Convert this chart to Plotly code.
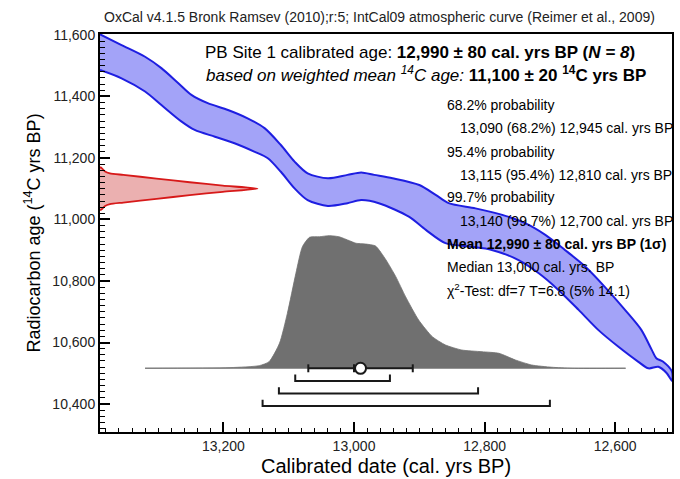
import plotly.graph_objects as go

# ---------------- data ----------------
# IntCal09 calibration band (calendar yrs BP -> 14C yrs BP)
band_upper_cal = [13389, 13356, 13320, 13295, 13269, 13249, 13224, 13193, 13163, 13137, 13112, 13091,
                  13071, 13040, 13010, 12989, 12969, 12941, 12900, 12875, 12855, 12814, 12773, 12738,
                  12707, 12677, 12646, 12616, 12585, 12560, 12544, 12537, 12527, 12513]
band_upper_c14 = [11602, 11567, 11529, 11492, 11443, 11405, 11378, 11356, 11329, 11297, 11242, 11188,
                  11150, 11134, 11145, 11153, 11145, 11134, 11112, 11080, 11053, 11036, 11015, 10988,
                  10950, 10901, 10847, 10781, 10706, 10641, 10576, 10549, 10538, 10505]
band_lower_cal = [13389, 13356, 13320, 13295, 13264, 13244, 13213, 13183, 13152, 13132, 13112, 13091,
                  13071, 13040, 13010, 12989, 12962, 12916, 12890, 12860, 12824, 12789, 12748, 12717,
                  12687, 12656, 12626, 12595, 12565, 12549, 12534, 12521, 12513]
band_lower_c14 = [11486, 11459, 11416, 11372, 11318, 11291, 11269, 11248, 11220, 11199, 11155, 11101,
                  11063, 11044, 11053, 11063, 11053, 11009, 10966, 10923, 10912, 10901, 10868, 10825,
                  10771, 10706, 10641, 10586, 10538, 10516, 10521, 10500, 10475]

# measured 14C age distribution (weighted mean 11,100 +/- 20)
c14_age = [11170, 11167, 11156, 11150, 11145, 11133, 11121, 11110, 11100,
           11090, 11079, 11067, 11055, 11050, 11044, 11033, 11030]
c14_prob = [0.0, 0.011, 0.032, 0.063, 0.148, 0.359, 0.57, 0.78, 1.0,
            0.78, 0.57, 0.359, 0.148, 0.063, 0.032, 0.011, 0.0]

# calibrated date distribution
cal_date = [13320, 13190, 13145, 13130, 13114, 13102, 13089, 13079, 13068, 13053, 13038, 13023,
            13007, 12997, 12982, 12967, 12951, 12936, 12921, 12901, 12880, 12860, 12835, 12804,
            12778, 12753, 12728, 12697, 12666, 12584]
cal_prob = [0.0, 0.005, 0.02, 0.05, 0.19, 0.415, 0.716, 0.917, 0.988, 0.992, 1.0, 0.992,
            0.962, 0.943, 0.937, 0.922, 0.817, 0.691, 0.54, 0.364, 0.238, 0.176, 0.138, 0.125,
            0.113, 0.063, 0.025, 0.008, 0.0, 0.0]

# calibrated ranges
range_labels = ["68.2%", "95.4%", "99.7%"]
range_from = [13090, 13115, 13140]
range_to = [12945, 12810, 12700]
cal_mean = 12990
cal_sigma = 80
cal_median = 13000

x_ticks = [13200, 13000, 12800, 12600]
y_ticks = [10400, 10600, 10800, 11000, 11200, 11400, 11600]

# ---------------- figure ----------------
FONT = "Liberation Sans, Arial, Helvetica, sans-serif"
fig = go.Figure()

# calibration band
fig.add_trace(go.Scatter(
    x=band_upper_cal + band_lower_cal[::-1],
    y=band_upper_c14 + band_lower_c14[::-1],
    fill="toself", fillcolor="rgb(163,163,248)", mode="lines",
    line=dict(color="rgb(30,30,225)", width=2, shape="spline", smoothing=0.8),
    hoverinfo="skip", showlegend=False))

# red 14C distribution on left
fig.add_trace(go.Scatter(
    x=c14_prob, y=c14_age, xaxis="x2", yaxis="y",
    fill="toself", fillcolor="rgba(228,150,150,0.75)", mode="lines",
    line=dict(color="rgb(215,25,25)", width=1.8, shape="spline", smoothing=0.6),
    hoverinfo="skip", showlegend=False))

# grey baseline
fig.add_trace(go.Scatter(
    x=[cal_date[0], cal_date[-1]], y=[0, 0], xaxis="x", yaxis="y2", mode="lines",
    line=dict(color="rgb(160,160,160)", width=1.5), hoverinfo="skip", showlegend=False))

# grey calibrated distribution
fig.add_trace(go.Scatter(
    x=cal_date, y=cal_prob, xaxis="x", yaxis="y2",
    fill="toself", fillcolor="rgb(112,112,112)", mode="lines",
    line=dict(color="rgb(112,112,112)", width=0.8, shape="spline", smoothing=0.6),
    hoverinfo="skip", showlegend=False))

# range brackets
step = 0.095
tick = 0.048
for i, (a, b) in enumerate(zip(range_from, range_to)):
    lv = -(i + 1) * step
    fig.add_trace(go.Scatter(
        x=[a, a, b, b], y=[lv + tick, lv, lv, lv + tick], xaxis="x", yaxis="y2",
        mode="lines", line=dict(color="rgb(25,25,25)", width=2),
        hoverinfo="skip", showlegend=False))

# mean +/- sigma bar
mt = 0.03
fig.add_trace(go.Scatter(
    x=[cal_mean + cal_sigma, cal_mean + cal_sigma, None, cal_mean + cal_sigma, cal_mean - cal_sigma, None,
       cal_mean - cal_sigma, cal_mean - cal_sigma, None, cal_median, cal_median],
    y=[-mt, mt, None, 0, 0, None, -mt, mt, None, -mt, mt],
    xaxis="x", yaxis="y2", mode="lines", line=dict(color="rgb(25,25,25)", width=2),
    hoverinfo="skip", showlegend=False))
fig.add_trace(go.Scatter(
    x=[cal_mean], y=[0], xaxis="x", yaxis="y2", mode="markers",
    marker=dict(size=11, color="white", line=dict(color="rgb(25,25,25)", width=2)),
    hoverinfo="skip", showlegend=False))

axis_common = dict(showline=True, linewidth=2, linecolor="black", mirror=True,
                   ticks="inside", ticklen=10, tickwidth=2, tickcolor="black",
                   showgrid=False, zeroline=False,
                   tickfont=dict(family=FONT, size=14, color="#222"))

fig.update_layout(
    width=680, height=479,
    margin=dict(l=100, r=6, t=34, b=47),
    paper_bgcolor="white", plot_bgcolor="white",
    font=dict(family=FONT, color="black"),
    xaxis=dict(range=[13389, 12513], tickvals=x_ticks, tickformat=",d",
               minor=dict(dtick=20, tick0=0, ticks="inside", ticklen=4, tickwidth=1, tickcolor="black"),
               **axis_common),
    yaxis=dict(range=[10309, 11603], tickvals=y_ticks, tickformat=",d",
               minor=dict(dtick=20, tick0=0, ticks="inside", ticklen=5, tickwidth=1, tickcolor="black"),
               **axis_common),
    xaxis2=dict(range=[0, 3.633], overlaying="x", visible=False),
    yaxis2=dict(range=[-0.4804, 2.521], overlaying="y", visible=False),
)

ann = []
def add_text(x, y, text, size=14, xanchor="left", angle=0, color="black"):
    ann.append(dict(x=x, y=y, xref="paper", yref="paper", text=text, showarrow=False,
                    xanchor=xanchor, yanchor="middle", textangle=angle,
                    font=dict(family=FONT, size=size, color=color)))

add_text(0.0035, 1.0427,
         "OxCal v4.1.5 Bronk Ramsev (2010);r:5; IntCal09 atmospheric curve (Reimer et al., 2009)",
         size=14, xanchor="left", color="#222")
add_text(0.1794, 0.9523,
         "PB Site 1 calibrated age: <b>12,990 ± 80 cal. yrs BP (<i>N = 8</i>)</b>", size=17)
add_text(0.1812, 0.9000,
         "<i>based on weighted mean <sup>14</sup>C age:</i> <b>11,100 ± 20 <sup>14</sup>C yrs BP</b>", size=17)

ys = [0.8216, 0.7631, 0.7043, 0.6457, 0.5897, 0.5309]
for i, lab in enumerate(range_labels):
    add_text(0.6028, ys[2 * i], f"{lab} probability")
    add_text(0.6260, ys[2 * i + 1], f"{range_from[i]:,} ({lab}) {range_to[i]:,} cal. yrs BP")
add_text(0.6028, 0.4724, f"<b>Mean {cal_mean:,} ± {cal_sigma} cal. yrs BP (1σ)</b>")
add_text(0.6028, 0.4153, f"Median {cal_median:,} cal. yrs. BP")
add_text(0.6028, 0.3568, "χ<sup>2</sup>-Test: df=7 T=6.8 (5% 14.1)")

add_text(0.5, -0.0854, "Calibrated date (cal. yrs BP)", size=20, xanchor="center")
add_text(-0.118, 0.5, "Radiocarbon age (<sup>14</sup>C yrs BP)", size=18, xanchor="center", angle=-90)

fig.update_layout(annotations=ann)
fig.write_html("out.html")
